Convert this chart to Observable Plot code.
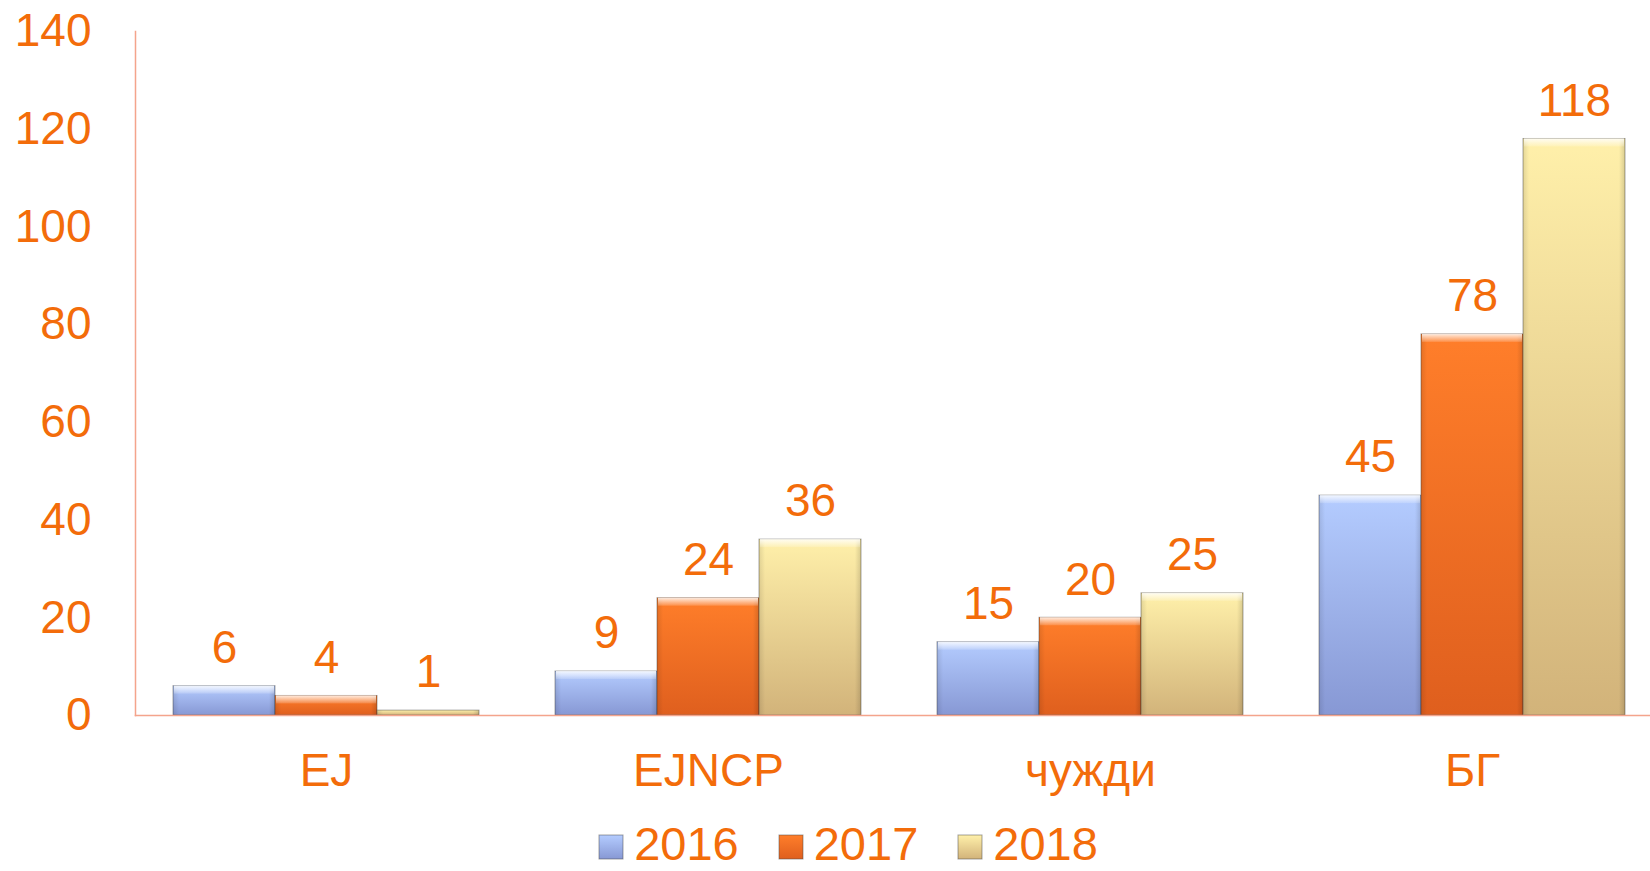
<!DOCTYPE html>
<html>
<head>
<meta charset="utf-8">
<script src="https://cdn.jsdelivr.net/npm/d3@7"></script>
<script src="https://cdn.jsdelivr.net/npm/@observablehq/plot@0.6"></script>
<style>
  html, body { margin: 0; padding: 0; background: #fff; overflow: hidden; }
  #chart svg { display: block; }
  #legend { height: 56px; box-sizing: border-box; padding-top: 8px; padding-left: 47px; }
  #legend .lg-swatches { justify-content: center !important; min-height: 0 !important; margin: 0 !important; line-height: 0.9; font-family: "Liberation Sans", Arial, sans-serif; font-size: 47px; color: #F36C0A; }
  #legend .lg-swatch { margin-right: 40px !important; }
  #legend .lg-swatch:last-child { margin-right: 0 !important; }
  #legend .lg-swatch > svg { margin-right: 11px !important; stroke: #4a4a4a; stroke-opacity: 0.5; position: relative; top: 3px; }
</style>
</head>
<body>
<svg width="0" height="0" style="position:absolute">
  <defs>
    <linearGradient id="g2016" x1="0" y1="0" x2="0" y2="1">
      <stop offset="0" stop-color="#B4CCFF"/>
      <stop offset="1" stop-color="#8798D4"/>
    </linearGradient>
    <linearGradient id="g2017" x1="0" y1="0" x2="0" y2="1">
      <stop offset="0" stop-color="#FF7E2A"/>
      <stop offset="1" stop-color="#DF5F1E"/>
    </linearGradient>
    <linearGradient id="g2018" x1="0" y1="0" x2="0" y2="1">
      <stop offset="0" stop-color="#FFF0AA"/>
      <stop offset="1" stop-color="#D2B37A"/>
    </linearGradient>
    <linearGradient id="hl" x1="0" y1="0" x2="0" y2="1">
      <stop offset="0" stop-color="#ffffff" stop-opacity="0.85"/>
      <stop offset="1" stop-color="#ffffff" stop-opacity="0.15"/>
    </linearGradient>
    <linearGradient id="side" x1="0" y1="0" x2="1" y2="0">
      <stop offset="0" stop-color="#000000" stop-opacity="0.10"/>
      <stop offset="0.06" stop-color="#000000" stop-opacity="0"/>
      <stop offset="0.94" stop-color="#000000" stop-opacity="0"/>
      <stop offset="1" stop-color="#000000" stop-opacity="0.14"/>
    </linearGradient>
  </defs>
</svg>
<div id="chart"></div>
<div id="legend"></div>
<script>
const categories = ["EJ", "EJNCP", "чужди", "БГ"];
const years = ["2016", "2017", "2018"];
const values2016 = [6, 9, 15, 45];
const values2017 = [4, 24, 20, 78];
const values2018 = [1, 36, 25, 118];
const yTicks = [0, 20, 40, 60, 80, 100, 120, 140];

const seriesValues = {"2016": values2016, "2017": values2017, "2018": values2018};
const data = categories.flatMap((cat, i) =>
  years.map(year => ({cat, year, value: seriesValues[year][i]}))
);

const ORANGE = "#F36C0A";
const AXIS = "#F4A48C";
const FONT = "'Liberation Sans', Arial, sans-serif";
const fills = years.map(y => `url(#g${y})`);

const chart = Plot.plot({
  width: 1650,
  height: 815,
  marginLeft: 135,
  marginRight: -13,
  marginTop: 31,
  marginBottom: 100,
  style: {fontFamily: FONT, background: "white", color: ORANGE, overflow: "hidden"},
  fx: {domain: categories, paddingInner: 0.2, paddingOuter: 0.1, label: null},
  x: {domain: years, padding: 0, axis: null},
  y: {domain: [0, 140], axis: null},
  color: {domain: years, range: fills},
  marks: [
    Plot.frame({anchor: "left", facet: "super", stroke: AXIS, strokeWidth: 1.5, insetLeft: -38}),
    Plot.barY(data, {fx: "cat", x: "year", y: "value", fill: "year", stroke: "#3a3a3a", strokeOpacity: 0.45, strokeWidth: 1}),
    Plot.barY(data, {fx: "cat", x: "year", y: "value", fill: "url(#side)"}),
    Plot.barY(data.filter(d => d.value >= 3), {fx: "cat", x: "year", y1: "value", y2: "value", insetBottom: -8, insetLeft: 1, insetRight: 1, fill: "url(#hl)"}),
    Plot.frame({anchor: "bottom", facet: "super", stroke: AXIS, strokeWidth: 1.5, insetLeft: -38, insetRight: -38}),
    Plot.text(data, {fx: "cat", x: "year", y: "value", text: d => String(d.value), dy: -38, fontSize: 46, fill: ORANGE}),
    Plot.axisY({ticks: yTicks, tickSize: 0, tickPadding: 82, fontSize: 46, fill: ORANGE, label: null}),
    Plot.axisFx({anchor: "bottom", tickSize: 0, tickPadding: 38, fontSize: 46, fill: ORANGE, label: null})
  ]
});
document.getElementById("chart").appendChild(chart);

const legend = Plot.legend({
  color: {domain: years, range: fills},
  legend: "swatches",
  swatchSize: 24,
  className: "lg"
});
document.getElementById("legend").appendChild(legend);
</script>
</body>
</html>
